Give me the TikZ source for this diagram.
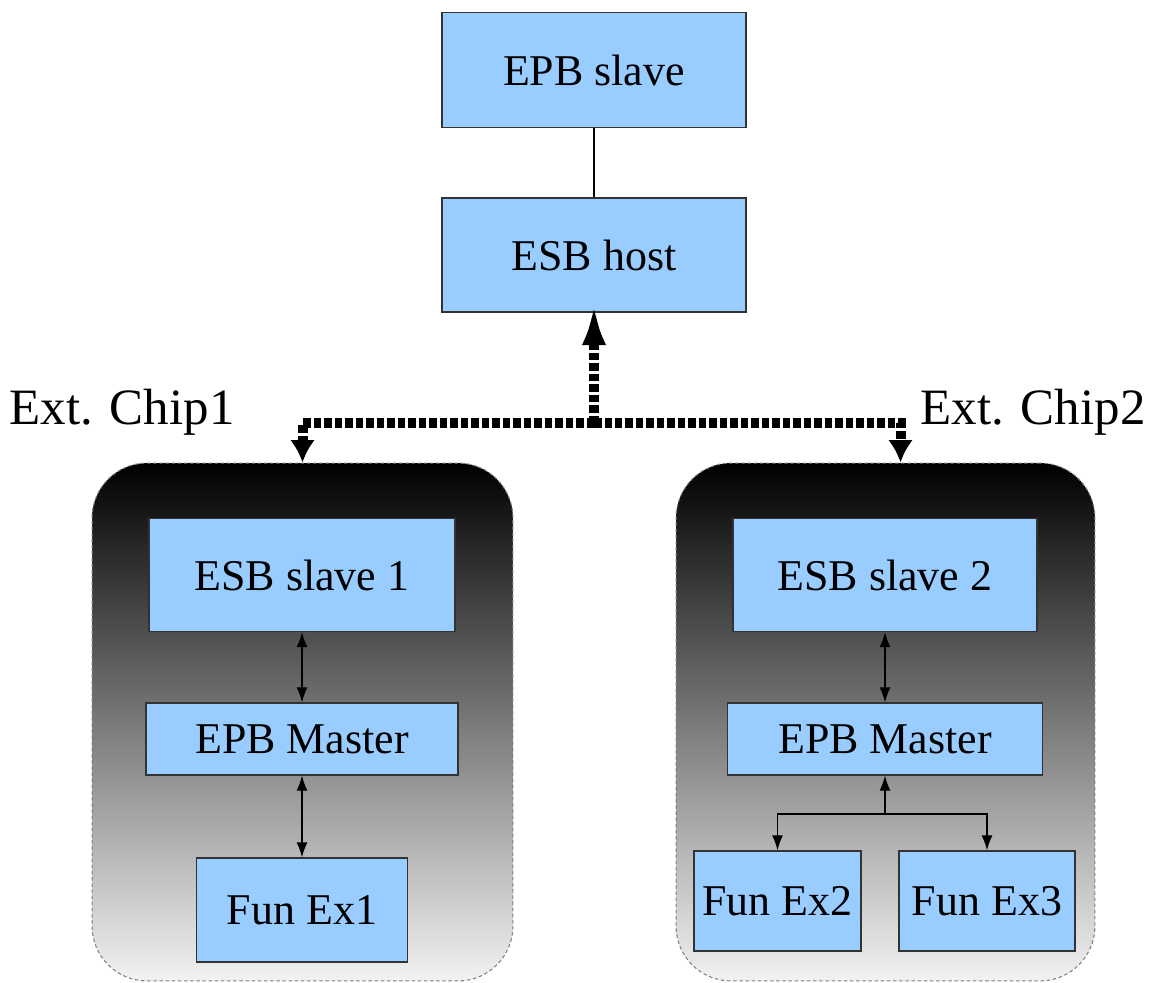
\documentclass[tikz,border=0pt]{standalone}
\usepackage{fontspec}
\setmainfont{Liberation Serif}
\usetikzlibrary{arrows.meta}
\definecolor{boxblue}{RGB}{153,204,255}

\begin{document}
\begin{tikzpicture}[
x=0.02cm, y=-0.02cm,
block/.style={
rectangle,
draw=black!80,
line width=0.8pt,
fill=boxblue,
inner sep=0 pt,
font=\fontsize{25}{30}\selectfont,
},
chip/.style={
rectangle,
rounded corners=1.1cm,
draw=black!50,
dash pattern=on 2pt off 1.5pt,
line width=0.6pt,
top color=black,
bottom color=black!5,
minimum width=8.42cm,
minimum height=10.36cm,
},
link/.style={
line width=0.7pt,
{Latex[length=0.3cm,width=0.22cm]}-{Latex[length=0.3cm,width=0.22cm]},
},
bus/.style={
line width=0.2cm,
dash pattern=on 0.15cm off 0.06cm,
},
]
\useasboundingbox (0,0) rectangle (1154,983);

% external chips
\node [chip] at (302.5,722) (chip1) {};
\node [chip, minimum width=8.38cm] at (885.5,722) (chip2) {};

\node [font=\fontsize{29}{34}\selectfont] at (122,412) (lbl1) {Ext. Chip1};
\node [font=\fontsize{29}{34}\selectfont] at (1033,412) (lbl2) {Ext. Chip2};

% host side
\node [block, minimum width=6.08cm, minimum height=2.3cm] at (594,70) (eslave) {EPB slave};
\node [block, minimum width=6.08cm, minimum height=2.28cm] at (594,255) (ehost) {ESB host};

% chip 1 blocks
\node [block, minimum width=6.12cm, minimum height=2.26cm] at (302,575) (slave1) {ESB slave 1};
\node [block, minimum width=6.24cm, minimum height=1.44cm] at (302,739) (master1) {EPB Master};
\node [block, minimum width=4.22cm, minimum height=2.08cm] at (302,910) (fun1) {Fun Ex1};

% chip 2 blocks
\node [block, minimum width=6.08cm, minimum height=2.26cm] at (885,575) (slave2) {ESB slave 2};
\node [block, minimum width=6.3cm, minimum height=1.44cm] at (885,739) (master2) {EPB Master};
\node [block, minimum width=3.34cm, minimum height=2cm] at (777.5,901) (fun2) {Fun Ex2};
\node [block, minimum width=3.52cm, minimum height=2cm] at (987,901) (fun3) {Fun Ex3};

% bus
\draw [line width=0.6pt] (eslave) -- (ehost);
\coordinate (hub) at (594,423);
\draw [bus, shorten >=-0.2cm, -{Latex[length=0.85cm,width=0.48cm]}] (hub) -- (ehost);
\draw [bus, -{Latex[length=0.45cm,width=0.5cm]}] (hub) -| (chip1.north);
\draw [bus, -{Latex[length=0.45cm,width=0.5cm]}] (hub) -| ([xshift=0.3cm]chip2.north);

% local links
\draw [link] (slave1) -- (master1);
\draw [link] (master1) -- (fun1);
\draw [link] (slave2) -- (master2);

\coordinate (split) at (885,814);
\draw [line width=0.7pt, -{Latex[length=0.3cm,width=0.22cm]}]
(split) -- (master2);
\draw [line width=0.7pt, -{Latex[length=0.3cm,width=0.22cm]}]
(split) -| (fun2);
\draw [line width=0.7pt, -{Latex[length=0.3cm,width=0.22cm]}]
(split) -| (fun3);

\end{tikzpicture}
\end{document}
